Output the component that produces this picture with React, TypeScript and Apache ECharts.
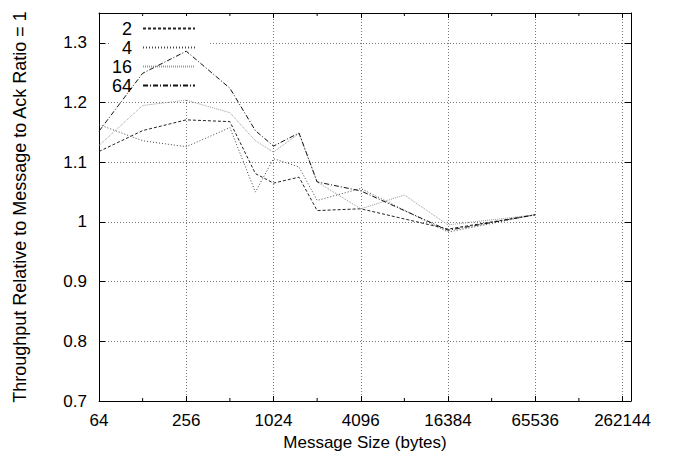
import React, { useEffect, useRef } from "react";
import * as echarts from "echarts";

// Message sizes (bytes) at which each series was measured
const messageSizes = [64, 128, 256, 512, 768, 1024, 1536, 2048, 4096, 16384, 65536];
const messageSizes16 = [64, 128, 256, 512, 768, 1024, 1536, 2048, 4096, 8192, 16384, 65536];

// Throughput relative to message/ack ratio = 1
const ratio2 = [1.118, 1.153, 1.171, 1.168, 1.081, 1.065, 1.075, 1.019, 1.022, 0.988, 1.012];
const ratio4 = [1.163, 1.136, 1.126, 1.158, 1.05, 1.106, 1.092, 1.036, 1.056, 0.983, 1.012];
const ratio16 = [1.128, 1.195, 1.204, 1.183, 1.136, 1.117, 1.148, 1.067, 1.022, 1.045, 0.995, 1.012];
const ratio64 = [1.152, 1.249, 1.286, 1.224, 1.153, 1.127, 1.149, 1.067, 1.052, 0.986, 1.012];

const seriesNames = ["2", "4", "16", "64"];
const minorTickSizes = [128, 512, 2048, 8192, 32768, 131072];

const X_MIN = 64;
const X_MAX = 300000;
const Y_MIN = 0.7;
const Y_MAX = 1.35;

const FONT = "'Liberation Sans', Arial, Helvetica, sans-serif";

export default function App() {
  const ref = useRef<HTMLDivElement>(null);

  useEffect(() => {
    if (!ref.current) return;
    const chart = echarts.init(ref.current, undefined, { renderer: "svg" });

    const mk = (name: string, xs: number[], ys: number[], color: string, dash: number[]) => ({
      name,
      type: "line",
      data: xs.map((x, i) => [x, ys[i]]),
      symbol: "none",
      color,
      z: 3,
      lineStyle: { color, width: 1, type: dash },
    });

    const axisLine = { show: true, lineStyle: { color: "#000", width: 1 } };

    chart.setOption({
      animation: false,
      backgroundColor: "#fff",
      grid: { left: 99, right: 44, top: 13, bottom: 65, containLabel: false },
      legend: {
        data: seriesNames,
        orient: "vertical",
        align: "right",
        left: 109,
        top: 16,
        itemWidth: 52,
        itemHeight: 10,
        itemGap: 0,
        padding: [3, 12, 3, 3],
        backgroundColor: "#fff",
        z: 1,
        selectedMode: false,
        itemStyle: { opacity: 0 },
        textStyle: {
          fontSize: 18,
          color: "#000",
          fontFamily: FONT,
          lineHeight: 19,
          padding: [0, 6, 0, 0],
        },
      },
      xAxis: [
        {
          type: "log",
          logBase: 4,
          min: X_MIN,
          max: X_MAX,
          position: "bottom",
          axisLine,
          axisTick: { inside: true, length: 5, lineStyle: { color: "#000" } },
          axisLabel: {
            showMaxLabel: false,
            margin: 11,
            color: "#000",
            fontSize: 17,
            fontFamily: FONT,
            formatter: (v: number) => String(Math.round(v)),
          },
          splitLine: { show: true, lineStyle: { color: "#777", width: 1, type: [1, 2] } },
          name: "Message Size (bytes)",
          nameLocation: "middle",
          nameGap: 31,
          nameTextStyle: { fontSize: 17, color: "#000", fontFamily: FONT },
        },
        {
          type: "log",
          logBase: 4,
          min: X_MIN,
          max: X_MAX,
          position: "top",
          axisLine,
          axisTick: { inside: true, length: 5, lineStyle: { color: "#000" } },
          axisLabel: { show: false },
          splitLine: { show: false },
        },
      ],
      yAxis: [
        {
          type: "value",
          min: Y_MIN,
          max: Y_MAX,
          interval: 0.1,
          position: "left",
          axisLine,
          axisTick: { inside: true, length: 6, lineStyle: { color: "#000" } },
          axisLabel: {
            showMaxLabel: false,
            margin: 12,
            color: "#000",
            fontSize: 17,
            fontFamily: FONT,
            formatter: (v: number) => String(Math.round(v * 10) / 10),
          },
          splitLine: { show: true, lineStyle: { color: "#777", width: 1, type: [1, 2] } },
          name: "Throughput Relative to Message to Ack Ratio = 1",
          nameLocation: "middle",
          nameGap: 70,
          nameTextStyle: { fontSize: 18, color: "#000", fontFamily: FONT },
        },
        {
          type: "value",
          min: Y_MIN,
          max: Y_MAX,
          interval: 0.1,
          position: "right",
          axisLine,
          axisTick: { inside: true, length: 6, lineStyle: { color: "#000" } },
          axisLabel: { show: false },
          splitLine: { show: false },
        },
      ],
      series: [
        mk("2", messageSizes, ratio2, "#222", [3, 2]),
        mk("4", messageSizes, ratio4, "#444", [1, 2]),
        mk("16", messageSizes16, ratio16, "#999", [1, 1]),
        mk("64", messageSizes, ratio64, "#111", [5, 2, 1, 2]),
        {
          name: "minorTicks",
          type: "custom",
          silent: true,
          z: 4,
          clip: false,
          data: minorTickSizes.map((v) => [v, Y_MIN]),
          encode: { x: 0, y: 1 },
          renderItem: (_params: any, api: any) => {
            const v = api.value(0);
            const b = api.coord([v, Y_MIN]);
            const t = api.coord([v, Y_MAX]);
            return {
              type: "group",
              children: [
                {
                  type: "line",
                  shape: { x1: b[0], y1: b[1], x2: b[0], y2: b[1] - 3 },
                  style: { stroke: "#000", lineWidth: 1 },
                },
                {
                  type: "line",
                  shape: { x1: t[0], y1: t[1], x2: t[0], y2: t[1] + 3 },
                  style: { stroke: "#000", lineWidth: 1 },
                },
              ],
            };
          },
        },
      ],
    });

    return () => chart.dispose();
  }, []);

  return (
    <div
      ref={ref}
      style={{ position: "fixed", left: 0, top: 0, width: 675, height: 466, background: "#fff" }}
    />
  );
}
